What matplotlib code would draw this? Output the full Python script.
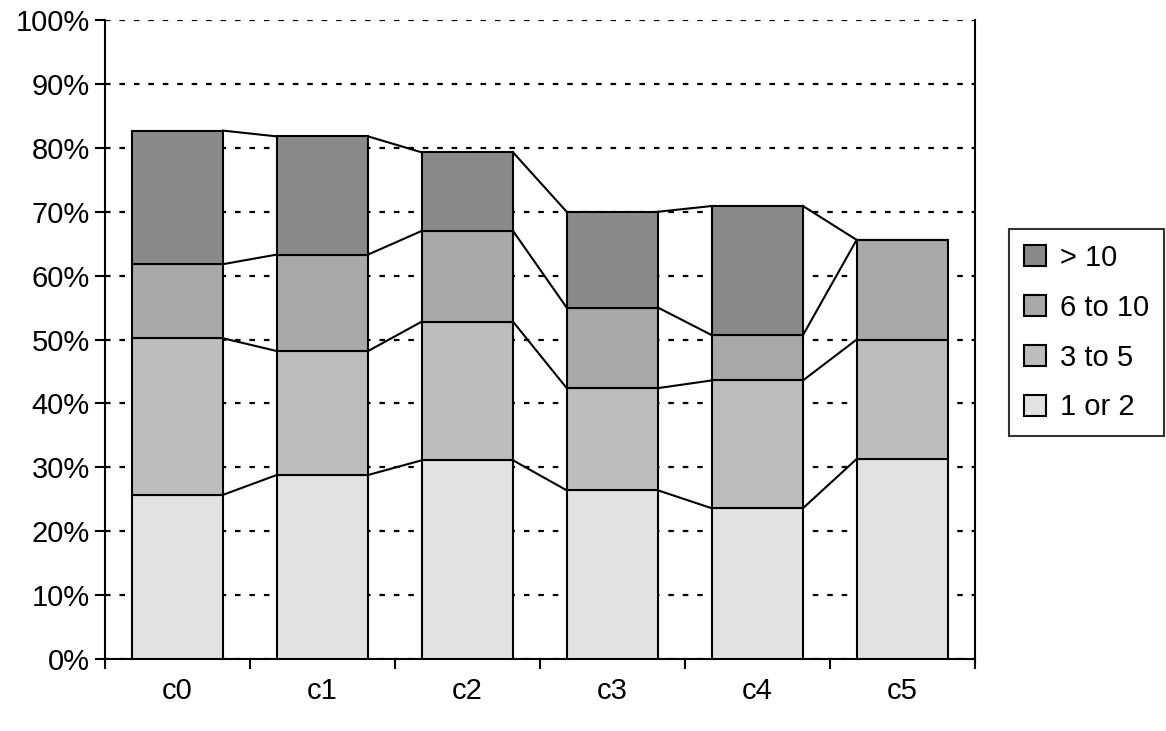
import numpy as np
import matplotlib
matplotlib.use("Agg")
import matplotlib.pyplot as plt
from matplotlib.ticker import FuncFormatter, FixedLocator

categories = ["c0", "c1", "c2", "c3", "c4", "c5"]
one_or_two = [25.7, 28.8, 31.1, 26.4, 23.6, 31.3]
three_to_five = [24.5, 19.4, 21.7, 16.0, 20.0, 18.7]
six_to_ten = [11.6, 15.1, 14.2, 12.6, 7.1, 15.6]
over_ten = [20.9, 18.5, 12.3, 15.0, 20.2, 0.0]

series = [
    ("1 or 2", one_or_two, "#e2e2e2"),
    ("3 to 5", three_to_five, "#bdbdbd"),
    ("6 to 10", six_to_ten, "#a9a9a9"),
    ("> 10", over_ten, "#8a8a8a"),
]

plt.rcParams["font.family"] = ["Liberation Sans", "DejaVu Sans"]
fig = plt.figure(figsize=(11.66, 7.31), dpi=100)
ax = fig.add_axes([0.090, 0.0985, 0.746, 0.874])

x = np.arange(len(categories))
width = 0.63
lw = 1.5
bottom = np.zeros(len(categories))
handles = []
for name, vals, color in series:
    vals = np.array(vals)
    h = ax.bar(x, vals, width, bottom=bottom, color=color, edgecolor="black",
               linewidth=lw, label=name, zorder=3)
    handles.append(h)
    bottom = bottom + vals
    # series lines between adjacent bars
    for i in range(len(x) - 1):
        ax.plot([x[i] + width / 2, x[i + 1] - width / 2], [bottom[i], bottom[i + 1]],
                color="black", linewidth=lw, zorder=4)

ax.set_xlim(-0.5, len(categories) - 0.5)
ax.set_ylim(0, 100)
ax.yaxis.set_major_locator(FixedLocator(np.arange(0, 101, 10)))
ax.yaxis.set_major_formatter(FuncFormatter(lambda v, p: f"{v:.0f}%"))
ax.set_xticks(x)
ax.set_xticklabels(categories)
ax.xaxis.set_minor_locator(FixedLocator(np.arange(-0.5, len(categories), 1)))
ax.tick_params(axis="x", which="major", length=0, pad=13, labelsize=21)
ax.tick_params(axis="x", which="minor", length=7, direction="out", width=lw)
ax.tick_params(axis="y", length=7, direction="out", width=lw, labelsize=21, pad=4)
ax.grid(axis="y", color="black", linestyle=(0, (2.5, 4)), linewidth=1.6, zorder=1)
ax.spines["top"].set_visible(False)
for s in ["left", "right", "bottom"]:
    ax.spines[s].set_linewidth(lw)

leg = fig.legend(handles[::-1], [s[0] for s in series][::-1], loc="center left",
                 bbox_to_anchor=(0.853, 0.545), fontsize=21, frameon=True,
                 fancybox=False, edgecolor="black", handlelength=0.75,
                 handleheight=0.75, labelspacing=0.75, borderpad=0.5, handletextpad=0.5)
leg.get_frame().set_linewidth(lw)

fig.savefig("out.png", dpi=100)
